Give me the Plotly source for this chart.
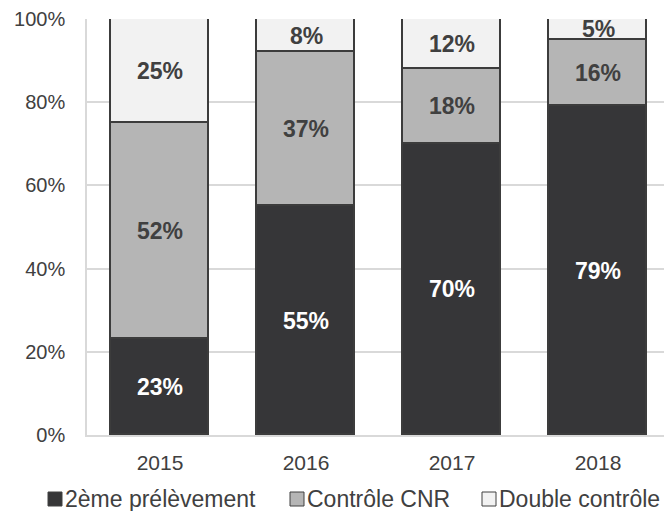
import plotly.graph_objects as go

years = ["2015", "2016", "2017", "2018"]
second_sample = [23, 55, 70, 79]      # 2ème prélèvement
cnr_check = [52, 37, 18, 16]          # Contrôle CNR
double_check = [25, 8, 12, 5]         # Double contrôle
series_names = ["2ème prélèvement", "Contrôle CNR", "Double contrôle"]
y_ticks = [0, 20, 40, 60, 80, 100]

fills = ["#363638", "#b5b5b5", "#f2f2f2"]
label_colors = ["#ffffff", "#404040", "#404040"]
edge = "#3c3c3c"
font_family = "Liberation Sans, Arial, sans-serif"
text_grey = "#404040"

W, H = 664, 511
M_L, M_T, M_B = 87, 19, 76
plot_w = W - M_L
plot_h = H - M_T - M_B

fig = go.Figure()
series = [second_sample, cnr_check, double_check]
for name, vals, fill in zip(series_names, series, fills):
    fig.add_trace(go.Bar(
        x=years, y=vals, name=name,
        marker=dict(color=fill, line=dict(color=edge, width=1.6)),
        width=0.67,
        showlegend=False,
    ))

# value labels centred in each stacked segment (x given as category index)
base = [0] * len(years)
for vals, lc in zip(series, label_colors):
    for i, v in enumerate(vals):
        fig.add_annotation(x=i, y=base[i] + v / 2, xref="x", yref="y",
                           text=f"<b>{v}%</b>",
                           showarrow=False, xanchor="center", yanchor="middle",
                           font=dict(family=font_family, size=23, color=lc))
        base[i] += v

# legend: small squares with text, below the axis
legend_text_x = [65, 307, 499]
legend_y = 499
sq = 14
for name, fill, tx in zip(series_names, fills, legend_text_x):
    x0 = tx - 3 - sq
    fig.add_shape(type="rect", xref="paper", yref="paper",
                  x0=(x0 - M_L) / plot_w, x1=(x0 + sq - M_L) / plot_w,
                  y0=(H - M_B - (legend_y + sq / 2)) / plot_h,
                  y1=(H - M_B - (legend_y - sq / 2)) / plot_h,
                  fillcolor=fill, line=dict(color=text_grey, width=1))
    fig.add_annotation(xref="paper", yref="paper",
                       x=(tx - M_L) / plot_w, y=(H - M_B - legend_y) / plot_h,
                       text=name, showarrow=False, xanchor="left", yanchor="middle",
                       xshift=-2,
                       font=dict(family=font_family, size=23, color=text_grey))

fig.update_layout(
    barmode="stack",
    width=W, height=H,
    margin=dict(l=M_L, r=0, t=M_T, b=M_B),
    paper_bgcolor="white", plot_bgcolor="white",
    font=dict(family=font_family, size=21, color=text_grey),
    bargap=0,
)
fig.update_xaxes(
    range=[-0.5, 3.452], type="category",
    showgrid=False, showline=True, linecolor="#d9d9d9", linewidth=1.5,
    ticks="outside", ticklen=8, tickcolor="rgba(0,0,0,0)",
    tickfont=dict(family=font_family, size=21, color=text_grey),
)
fig.update_yaxes(
    range=[0, 100], tickvals=y_ticks, ticktext=[f"{t}%" for t in y_ticks],
    showgrid=True, gridcolor="#d9d9d9", gridwidth=1.5,
    showline=True, linecolor="#d9d9d9", linewidth=1.5,
    zeroline=False,
    ticks="outside", ticklen=16, tickcolor="rgba(0,0,0,0)",
    tickfont=dict(family=font_family, size=20, color=text_grey),
)

fig.write_html("out.html")
